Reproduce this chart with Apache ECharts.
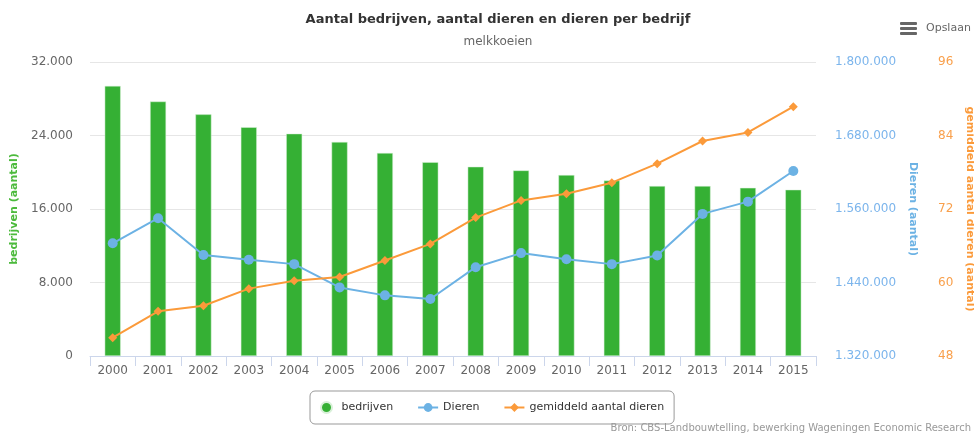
<!DOCTYPE html>
<html lang="nl">
<head>
    <meta charset="UTF-8">
    <title>Aantal bedrijven, aantal dieren en dieren per bedrijf</title>
    <script src="https://cdn.jsdelivr.net/npm/echarts@6/dist/echarts.min.js"></script>
    <style>
        html, body { margin: 0; padding: 0; background: #fff; }
    </style>
</head>
<body>
<!-- grafiek container -->
<div id="chart" style="width: 974px;height: 433px;"></div>

<script>
    // jaren op de x-as
    var jaren = ['2000', '2001', '2002', '2003', '2004', '2005', '2006', '2007',
        '2008', '2009', '2010', '2011', '2012', '2013', '2014', '2015'];
    // aantal bedrijven met melkkoeien
    var bedrijven = [29400, 27700, 26300, 24900, 24200, 23300, 22100, 21100,
        20600, 20200, 19700, 19100, 18500, 18500, 18300, 18100];
    // aantal melkkoeien
    var dieren = [1504000, 1545000, 1485000, 1477000, 1470000, 1432000, 1419000, 1413000,
        1465000, 1488000, 1478000, 1470000, 1484000, 1552000, 1572000, 1622000];
    // gemiddeld aantal dieren per bedrijf
    var gemiddeld = [51.0, 55.3, 56.2, 59.0, 60.3, 60.9, 63.6, 66.3,
        70.6, 73.4, 74.5, 76.3, 79.4, 83.1, 84.5, 88.7];

    var font = 'DejaVu Sans';
    var groen = '#35b034';
    var blauw = '#6cb2e4';
    var oranje = '#fb9a3a';

    // 32000 -> 32.000
    function punt(v) {
        return String(v).replace(/\B(?=(\d{3})+(?!\d))/g, '.');
    }

    var myChart = echarts.init(document.getElementById('chart'));
    var option = {
        animation: false,
        textStyle: { fontFamily: font },
        title: {
            text: 'Aantal bedrijven, aantal dieren en dieren per bedrijf',
            subtext: 'melkkoeien',
            left: 493,
            textAlign: 'center',
            top: 8,
            itemGap: 10,
            textStyle: { fontFamily: font, fontSize: 13, fontWeight: 'bold', color: '#333' },
            subtextStyle: { fontFamily: font, fontSize: 12, color: '#666' }
        },
        legend: {
            left: 310,
            top: 391,
            padding: [10, 10],
            itemGap: 24,
            itemWidth: 20,
            itemHeight: 11,
            borderColor: '#999',
            borderWidth: 1,
            borderRadius: 5,
            textStyle: { fontFamily: font, fontSize: 11, color: '#333' },
            data: [
                { name: 'bedrijven', icon: 'circle' },
                { name: 'Dieren' },
                { name: 'gemiddeld aantal dieren' }
            ]
        },
        grid: { left: 90, right: 158, top: 62, bottom: 77, outerBoundsMode: 'none' },
        xAxis: {
            type: 'category',
            data: jaren,
            axisLine: { lineStyle: { color: '#ccd6eb' } },
            axisTick: { show: true, length: 10, lineStyle: { color: '#ccd6eb' } },
            axisLabel: { color: '#666', fontSize: 12, margin: 9 }
        },
        yAxis: [
            {
                type: 'value',
                min: 0, max: 32000, interval: 8000,
                position: 'left',
                name: 'bedrijven (aantal)',
                nameLocation: 'middle',
                nameGap: 70,
                nameTextStyle: { color: '#4cba3c', fontWeight: 'bold', fontSize: 11 },
                axisLabel: { color: '#666', fontSize: 12, margin: 17, formatter: punt },
                splitLine: { lineStyle: { color: '#e6e6e6' } }
            },
            {
                type: 'value',
                min: 1320000, max: 1800000, interval: 120000,
                position: 'right',
                name: 'Dieren (aantal)',
                nameLocation: 'middle',
                nameRotate: -90,
                nameGap: 90,
                nameTextStyle: { color: blauw, fontWeight: 'bold', fontSize: 11 },
                axisLabel: { color: '#7cb5ec', fontSize: 12, margin: 19, formatter: punt },
                splitLine: { show: false }
            },
            {
                type: 'value',
                min: 48, max: 96, interval: 12,
                position: 'right',
                offset: 103,
                name: 'gemiddeld aantal dieren (aantal)',
                nameLocation: 'middle',
                nameRotate: -90,
                nameGap: 43,
                nameTextStyle: { color: oranje, fontWeight: 'bold', fontSize: 11 },
                axisLine: { show: false },
                axisLabel: { color: '#f9a04c', fontSize: 12, margin: 19 },
                splitLine: { show: false }
            }
        ],
        series: [
            {
                name: 'bedrijven',
                type: 'bar',
                yAxisIndex: 0,
                barWidth: 16,
                data: bedrijven,
                itemStyle: { color: groen, borderColor: '#d8f0d8', borderWidth: 0.5 }
            },
            {
                name: 'Dieren',
                type: 'line',
                yAxisIndex: 1,
                data: dieren,
                symbol: 'circle',
                symbolSize: 10,
                lineStyle: { color: blauw, width: 2 },
                itemStyle: { color: blauw }
            },
            {
                name: 'gemiddeld aantal dieren',
                type: 'line',
                yAxisIndex: 2,
                data: gemiddeld,
                symbol: 'diamond',
                symbolSize: 9,
                lineStyle: { color: oranje, width: 2 },
                itemStyle: { color: oranje }
            }
        ],
        graphic: [
            // menu knop rechtsboven
            { type: 'rect', left: 900, top: 22, shape: { width: 17, height: 3, r: 1 }, style: { fill: '#666' } },
            { type: 'rect', left: 900, top: 27, shape: { width: 17, height: 3, r: 1 }, style: { fill: '#666' } },
            { type: 'rect', left: 900, top: 32, shape: { width: 17, height: 3, r: 1 }, style: { fill: '#666' } },
            {
                type: 'text', left: 926, top: 23,
                style: { text: 'Opslaan', fill: '#666', font: '11px "DejaVu Sans"' }
            },
            {
                type: 'text', right: 3, bottom: 0,
                style: {
                    text: 'Bron: CBS-Landbouwtelling, bewerking Wageningen Economic Research',
                    fill: '#999', font: '10px "DejaVu Sans"'
                }
            }
        ]
    };
    myChart.setOption(option);
</script>
</body>
</html>
